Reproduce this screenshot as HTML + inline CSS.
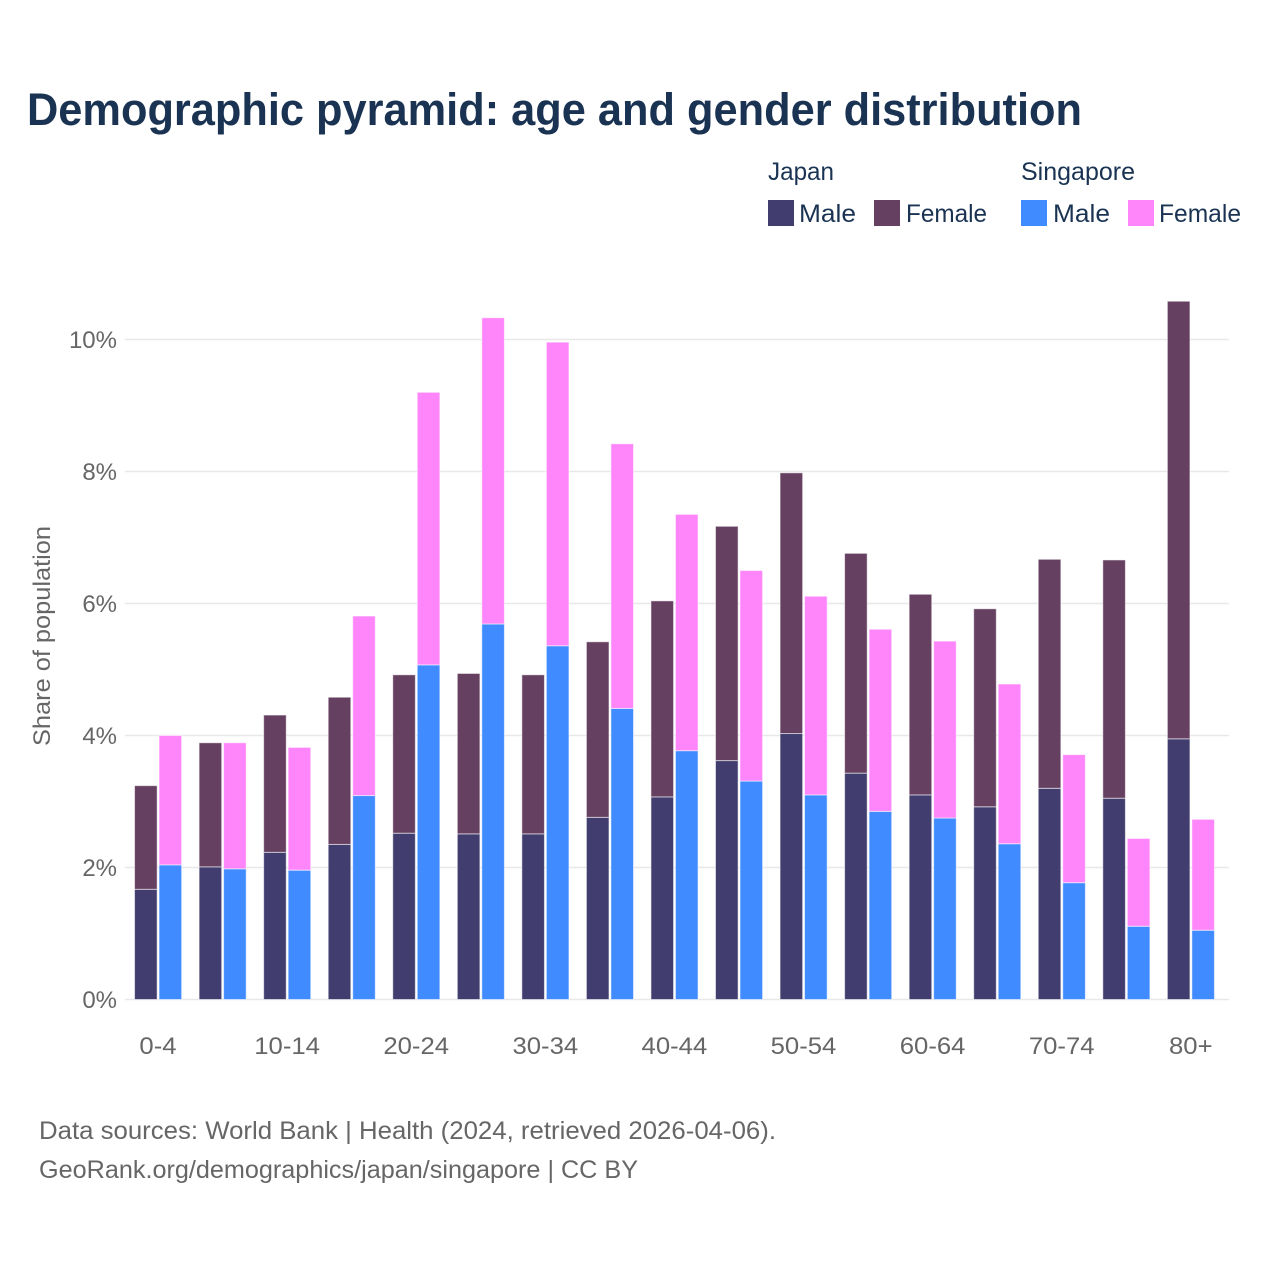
<!DOCTYPE html>
<html lang="en">
<head>
<meta charset="utf-8">
<title>Demographic pyramid: age and gender distribution</title>
<style>
html,body{margin:0;padding:0;background:#fff;}
svg{display:block;}
text{font-family:"Liberation Sans",sans-serif;}
</style>
</head>
<body>
<svg id="chart" xmlns="http://www.w3.org/2000/svg" width="1280" height="1280" viewBox="0 0 1280 1280">
  <rect x="0" y="0" width="1280" height="1280" fill="#ffffff"/>
  <text x="27" y="125" font-size="45" font-weight="700" fill="#1a3353" textLength="1055" lengthAdjust="spacingAndGlyphs">Demographic pyramid: age and gender distribution</text>

  <g font-size="25" fill="#1a3353">
    <text x="768" y="180" textLength="66" lengthAdjust="spacingAndGlyphs">Japan</text>
    <text x="1021" y="180" textLength="114" lengthAdjust="spacingAndGlyphs">Singapore</text>
    <rect x="768" y="200" width="26" height="26" fill="#413e6f"/>
    <text x="799" y="222" textLength="57" lengthAdjust="spacingAndGlyphs">Male</text>
    <rect x="874" y="200" width="26" height="26" fill="#664060"/>
    <text x="906" y="222" textLength="81" lengthAdjust="spacingAndGlyphs">Female</text>
    <rect x="1021" y="200" width="26" height="26" fill="#3f8bff"/>
    <text x="1053" y="222" textLength="57" lengthAdjust="spacingAndGlyphs">Male</text>
    <rect x="1128" y="200" width="26" height="26" fill="#ff85fb"/>
    <text x="1159" y="222" textLength="82" lengthAdjust="spacingAndGlyphs">Female</text>
  </g>

  <g id="grid"></g>
  <g id="y-labels"></g>
  <g id="bars"></g>
  <g id="x-labels"></g>

  <text transform="translate(50,636) rotate(-90)" text-anchor="middle" font-size="24" fill="#666666" textLength="220" lengthAdjust="spacingAndGlyphs">Share of population</text>

  <g font-size="25" fill="#666666">
    <text x="39" y="1139" textLength="737" lengthAdjust="spacingAndGlyphs">Data sources: World Bank | Health (2024, retrieved 2026-04-06).</text>
    <text x="39" y="1178" textLength="599" lengthAdjust="spacingAndGlyphs">GeoRank.org/demographics/japan/singapore | CC BY</text>
  </g>
</svg>
<script>
const categories = ["0-4","5-9","10-14","15-19","20-24","25-29","30-34","35-39","40-44","45-49","50-54","55-59","60-64","65-69","70-74","75-79","80+"];
const japanMale = [1.67,2.01,2.23,2.35,2.52,2.51,2.51,2.76,3.07,3.62,4.03,3.43,3.10,2.92,3.20,3.05,3.95];
const japanFemale = [1.57,1.88,2.08,2.23,2.40,2.43,2.41,2.66,2.97,3.55,3.95,3.33,3.04,3.00,3.47,3.61,6.63];
const singaporeMale = [2.04,1.98,1.96,3.09,5.07,5.69,5.36,4.41,3.77,3.31,3.10,2.85,2.75,2.36,1.77,1.11,1.05];
const singaporeFemale = [1.96,1.91,1.86,2.72,4.13,4.64,4.60,4.01,3.58,3.19,3.01,2.76,2.68,2.42,1.94,1.33,1.68];
const yTicks = [0,2,4,6,8,10];
const yTickLabels = ["0%","2%","4%","6%","8%","10%"];

const NS = "http://www.w3.org/2000/svg";
const plotLeft = 125, plotRight = 1229;
const firstCenter = 158, step = 64.55;
const barWidth = 22.6, barGap = 24.5;

function yScale(v) { return 999.5 - v * 66; }
function xCenter(i) { return firstCenter + i * step; }

const gridLayer = document.getElementById("grid");
const yLabelLayer = document.getElementById("y-labels");
const barLayer = document.getElementById("bars");
const xLabelLayer = document.getElementById("x-labels");

yTicks.forEach(function (t, i) {
  const line = document.createElementNS(NS, "line");
  
  
  line.setAttribute("x1", plotLeft);
  line.setAttribute("x2", plotRight);
  line.setAttribute("y1", yScale(t));
  line.setAttribute("y2", yScale(t));
  line.setAttribute("stroke", "#e8e8e8");
  line.setAttribute("stroke-width", "1.4");
  gridLayer.appendChild(line);

  const label = document.createElementNS(NS, "text");
  
  
  label.setAttribute("x", 117);
  label.setAttribute("y", yScale(t) + 8.5);
  label.setAttribute("text-anchor", "end");
  label.setAttribute("font-size", "24");
  label.setAttribute("fill", "#666666");
  label.textContent = yTickLabels[i];
  yLabelLayer.appendChild(label);
});

function drawSegment(left, base, value, fill) {
  const top = yScale(base + value);
  const rect = document.createElementNS(NS, "rect");
  
  
  rect.setAttribute("x", left);
  rect.setAttribute("y", top);
  rect.setAttribute("width", barWidth);
  rect.setAttribute("height", yScale(base) - top);
  rect.setAttribute("fill", fill);
  rect.setAttribute("stroke", "#ffffff");
  rect.setAttribute("stroke-opacity", "0.55");
  rect.setAttribute("stroke-width", "1");
  barLayer.appendChild(rect);
}

categories.forEach(function (cat, i) {
  const c = xCenter(i);
  const leftA = c - barGap / 2 - barWidth / 2 + 0.1;
  const leftB = c + barGap / 2 - barWidth / 2 + 0.1;
  drawSegment(leftA, 0, japanMale[i], "#413e6f");
  drawSegment(leftA, japanMale[i], japanFemale[i], "#664060");
  drawSegment(leftB, 0, singaporeMale[i], "#3f8bff");
  drawSegment(leftB, singaporeMale[i], singaporeFemale[i], "#ff85fb");

  if (i % 2 === 0) {
    const label = document.createElementNS(NS, "text");
    
    
    label.setAttribute("x", c);
    label.setAttribute("y", 1054);
    label.setAttribute("text-anchor", "middle");
    label.setAttribute("font-size", "24");
    label.setAttribute("fill", "#666666");
    label.textContent = cat;
    xLabelLayer.appendChild(label);
    label.setAttribute("textLength", label.getComputedTextLength() * 1.07);
    label.setAttribute("lengthAdjust", "spacingAndGlyphs");
  }
});
</script>
</body>
</html>
